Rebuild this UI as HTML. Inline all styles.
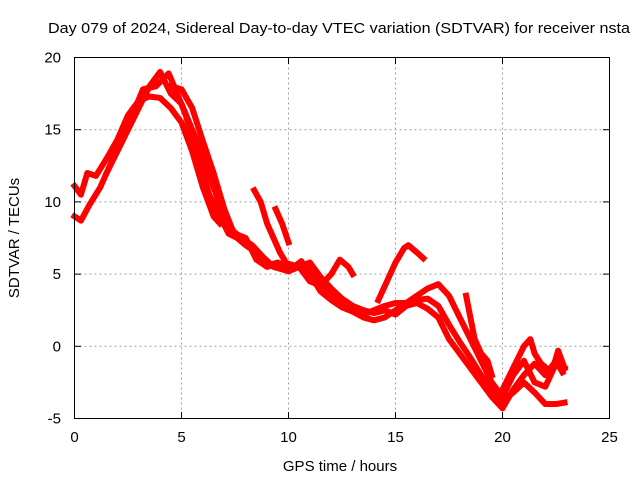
<!DOCTYPE html>
<html><head><meta charset="utf-8"><style>
body{margin:0;background:#fff}
svg{display:block;font-family:"Liberation Sans",sans-serif}
</style></head><body>
<svg id="c" width="640" height="480" xmlns="http://www.w3.org/2000/svg">
<text x="339" y="33" font-size="15" text-anchor="middle" textLength="582" lengthAdjust="spacingAndGlyphs">Day 079 of 2024, Sidereal Day-to-day VTEC variation (SDTVAR) for receiver nsta</text>
<text x="340" y="471" font-size="15" text-anchor="middle">GPS time / hours</text>
<text transform="translate(19,238) rotate(-90)" font-size="15" text-anchor="middle">SDTVAR / TECUs</text>
<g id="grid"></g><g id="ticks"></g><g id="data"></g>
<rect x="74.5" y="57.5" width="535" height="361" fill="none" stroke="#000" stroke-width="1"/>
</svg>
<script>
const xTicks=[0,5,10,15,20,25];
const yTicks=[-5,0,5,10,15,20];
const trace1=[[0,11.1],[0.3,10.5],[0.6,12],[1,11.8],[1.5,13],[2,14.3],[2.5,16],[3,17],[3.5,17.3],[4,17.2],[4.5,16.5],[5,15.5],[5.5,13.5],[6,11],[6.5,9],[6.8,8.5]];
const trace2=[[0,9],[0.3,8.7],[0.7,9.8],[1.2,11],[1.8,13],[2.2,14.5],[2.7,16],[3.2,17.8],[3.8,18],[4.4,18.9],[4.8,17.5],[5.2,16],[5.8,13],[6.3,10.5],[6.8,9],[7.2,7.8],[7.6,7.5],[8,7],[8.5,6.5],[9,5.6],[9.5,5.8],[10,5.2],[10.5,5.5],[11,5.8],[11.5,4.8],[12,4],[12.5,3.3],[13,2.8],[13.5,2.5],[14,2.3],[14.5,2.5],[15,2.2],[15.5,2.8],[16,3],[16.5,2.6],[17,2],[17.5,0.5],[18,-0.5],[18.5,-1.5],[19,-2.5],[19.5,-3.5],[20,-4.3],[20.5,-3],[21,-2],[21.5,-1.2],[22,-2],[22.5,-1],[22.8,-1.8]];
const trace3=[[1.5,12],[2,13.5],[2.5,15],[3,16.5],[3.5,18],[4,19],[4.5,17.5],[5,16.8],[5.5,15],[6,13.2],[6.5,11],[7,9],[7.5,7.8],[8,7.5],[8.5,6],[9,5.5],[9.8,5.8],[10.5,5.5],[11,5.3],[11.5,4.5],[12,3.5],[12.5,3],[13,2.5],[13.5,2.2],[14,2.5],[14.5,2.8],[15,3],[15.5,3],[16,3.5],[16.5,4],[17,4.3],[17.5,3.5],[18,2],[18.5,0.5],[19,-1],[19.5,-2.5],[20,-3.5],[20.5,-2],[21,-1],[21.5,-2.5],[22,-2.8],[22.5,-1.2],[22.9,-1.5]];
const trace4=[[4.5,18],[5,17.8],[5.5,16.5],[6,14.2],[6.5,12],[7,9.5],[7.4,8],[7.8,7.5],[8.3,7],[8.8,6.2],[9.3,5.5],[10,5.2],[10.6,5.9],[11,5],[11.5,3.8],[12,3.2],[12.5,2.7],[13,2.4],[13.5,2.0],[14,1.8],[14.5,2.0],[15,2.5],[15.5,3.0],[16,3.2],[16.5,3.3],[17,2.8],[17.5,1.5],[18,0.3],[18.5,-0.8],[19,-2],[19.5,-3],[20,-3.8],[20.5,-3.2],[21,-2.5],[21.5,-3.2],[22,-4],[22.5,-4],[22.9,-3.9]];
const seg1=[[8.4,10.8],[8.7,10],[9,8.5],[9.3,7.5],[9.6,6.5],[10,5.5]];
const seg2=[[9.4,9.5],[9.7,8.5],[10,7.2]];
const seg3=[[10.5,5.5],[11,4.5],[11.5,4.2],[12,5],[12.4,6],[12.8,5.5],[13,5]];
const seg4=[[14.2,3.2],[14.6,4.5],[15,5.8],[15.4,6.8],[15.6,7],[16,6.5],[16.3,6.1]];
const seg5=[[18.3,3.5],[18.5,2],[18.7,0.5],[19,-0.5],[19.3,-1],[19.5,-2]];
const seg6=[[20,-3],[20.5,-1.5],[21,0],[21.3,0.5],[21.5,-0.5],[21.8,-1.2],[22.3,-1.8],[22.6,-0.3],[22.9,-1.5]];
const series=[trace1,trace2,trace3,trace4,seg1,seg2,seg3,seg4,seg5,seg6];
const NS="http://www.w3.org/2000/svg";
const X=v=>74.5+v/25*535, Y=v=>418.5-(v+5)/25*361;
const grid=document.getElementById('grid'),ticks=document.getElementById('ticks'),data=document.getElementById('data');
function mk(tag,attrs,parent){const e=document.createElementNS(NS,tag);for(const k in attrs)e.setAttribute(k,attrs[k]);parent.appendChild(e);return e;}
xTicks.forEach(t=>{
  if(t>0&&t<25){const g=mk('line',{x1:X(t),x2:X(t),y1:57.5,y2:418.5,stroke:'#a0a0a0','stroke-dasharray':'2,3'},grid);
  
  }
  mk('line',{x1:X(t),x2:X(t),y1:418.5,y2:412,stroke:'#000'},ticks);
  mk('line',{x1:X(t),x2:X(t),y1:57.5,y2:64,stroke:'#000'},ticks);
  const l=mk('text',{x:X(t),y:442,'font-size':15,'text-anchor':'middle'},ticks);l.textContent=t;
  
  
});
yTicks.forEach(t=>{
  if(t>-5&&t<20){const g=mk('line',{x1:74.5,x2:609.5,y1:Y(t),y2:Y(t),stroke:'#a0a0a0','stroke-dasharray':'2,3'},grid);
  
  }
  mk('line',{x1:74.5,x2:81,y1:Y(t),y2:Y(t),stroke:'#000'},ticks);
  mk('line',{x1:609.5,x2:603,y1:Y(t),y2:Y(t),stroke:'#000'},ticks);
  const l=mk('text',{x:61,y:Y(t)+5,'font-size':15,'text-anchor':'end'},ticks);l.textContent=t;
  
  
});
series.forEach(s=>{
  const p=mk('polyline',{points:s.map(d=>X(d[0])+','+Y(d[1])).join(' '),fill:'none',stroke:'#ff0000','stroke-width':6,'stroke-linejoin':'round','stroke-linecap':'square'},data);
  
  
});
</script>
</body></html>
